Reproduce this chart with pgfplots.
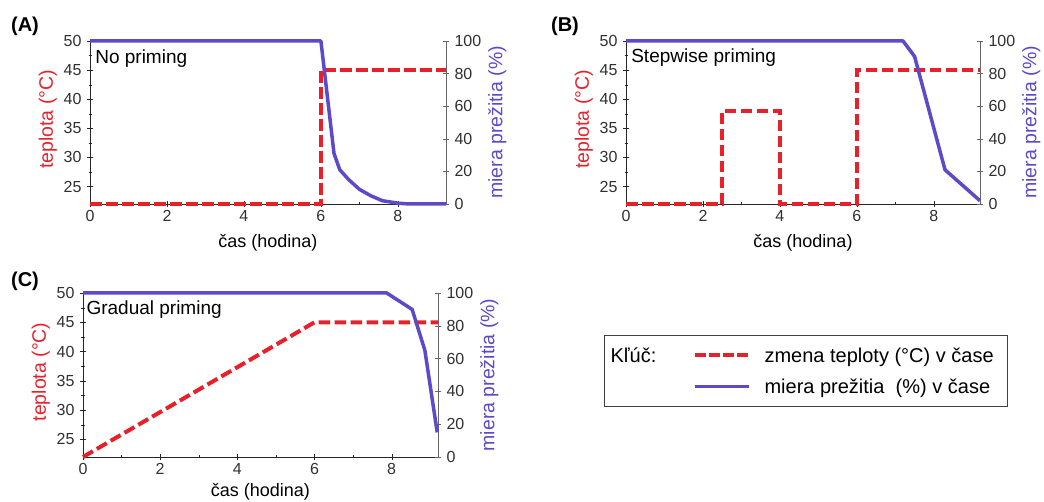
\documentclass[border=0pt]{standalone}
\usepackage{fontspec}
\setmainfont{Liberation Sans}
\usepackage{pgfplots}
\pgfplotsset{compat=1.18}
\definecolor{tred}{HTML}{E8202A}
\definecolor{sblue}{HTML}{5B4BC8}
\definecolor{tickgray}{HTML}{303030}

\pgfplotsset{
  base/.style={scale only axis, height=163pt, xmin=0, clip=false,
    /pgf/number format/assume math mode=true,
    tick label style={font=\fontsize{16}{18}\selectfont, text=tickgray},
    tick align=outside, major tick length=6pt, minor tick length=3pt,
  },
  tempaxis/.style={base, axis x line=bottom, axis y line=left,
    axis line style={-,black!85}, tick style={black!85},
    ymin=22, ymax=50, ytick={25,30,...,50}, minor y tick num=1,
    xtick={0,2,...,8}, minor x tick num=1,
    yticklabel style={xshift=-2pt},
    ylabel={teplota (°C)}, ylabel style={text=tred, font=\fontsize{19.5}{22}\selectfont, xshift=3pt},
    xlabel={čas (hodina)}, xlabel style={font=\fontsize{18}{21}\selectfont, yshift=-6pt}},
  survaxis/.style={base, axis x line=none, axis y line=right,
    axis line style={-,black!60}, tick style={black!60},
    ymin=0, ymax=100, ytick={0,20,...,100},
    yticklabel style={xshift=2pt},
    ylabel={miera prežitia (\%)}, ylabel style={text=sblue, font=\fontsize{19.5}{22}\selectfont}},
  temp/.style={tred, line width=4pt, dash pattern=on 11.5pt off 4.5pt},
  surv/.style={sblue, line width=3.5pt, line join=round},
  longleg/.style={legend image code/.code={\draw[##1] (0pt,0pt) -- (54pt,0pt);}},
}

\pgfplotstableread{
x y
0 22
6 22
6 45
9.25 45
}\tempA
\pgfplotstableread{
x y
0 100
6 100
6.34 31
6.49 21
6.72 15
7.0 9
7.3 5
7.6 2
8.0 0.5
8.3 0
9.25 0
}\survA
\pgfplotstableread{
x y
0 22
2.5 22
2.5 38
4 38
4 22
6 22
6 45
9.2 45
}\tempB
\pgfplotstableread{
x y
0 100
7.2 100
7.5 90.5
8.29 21
9.2 2
}\survB
\pgfplotstableread{
x y
0 22
6 45
9.2 45
}\tempC
\pgfplotstableread{
x y
0 100
7.87 100
8.53 90
8.86 65
9.18 15
}\survC

\begin{document}
\begin{tikzpicture}[x=1pt,y=1pt]
\useasboundingbox (0,0) rectangle (1044,502);

% Panel A
\begin{axis}[tempaxis, at={(90pt,298pt)}, anchor=south west, width=356pt, xmax=9.25]
\addplot[temp] table {\tempA};
\node[anchor=west, font=\fontsize{19}{22}\selectfont] at (axis description cs:0.005,0.89) {No priming};
\end{axis}
\begin{axis}[survaxis, at={(90pt,298pt)}, anchor=south west, width=356pt, xmax=9.25]
\addplot[surv] table {\survA};
\end{axis}

% Panel B
\begin{axis}[tempaxis, at={(626pt,298pt)}, anchor=south west, width=354pt, xmax=9.2]
\addplot[temp] table {\tempB};
\node[anchor=west, font=\fontsize{19}{22}\selectfont] at (axis description cs:0.005,0.9) {Stepwise priming};
\end{axis}
\begin{axis}[survaxis, at={(626pt,298pt)}, anchor=south west, width=354pt, xmax=9.2]
\addplot[surv] table {\survB};
\end{axis}

% Panel C
\begin{axis}[tempaxis, at={(83pt,45pt)}, anchor=south west, width=355pt, height=164pt, xmax=9.2,
  xlabel style={yshift=4pt}]
\addplot[temp] table {\tempC};
\node[anchor=west, font=\fontsize{19}{22}\selectfont] at (axis description cs:0,0.9) {Gradual priming};
\end{axis}
\begin{axis}[survaxis, at={(83pt,45pt)}, anchor=south west, width=355pt, height=164pt, xmax=9.2,
  legend style={at={(1.468,0.744)}, anchor=north west, draw=black!75, line width=0.8pt,
    font=\fontsize{20}{23}\selectfont, legend columns=2, legend cell align=left,
    inner xsep=4pt, inner ysep=10pt, row sep=11pt},
  ]
\addlegendimage{empty legend}
\addlegendentry{\makebox[80pt][l]{Kľúč:}}
\addlegendimage{tred, line width=4pt, dash pattern=on 11pt off 3pt, longleg}
\addlegendentry{\hspace*{12pt}zmena teploty (°C) v čase\hspace*{8pt}}
\addlegendimage{empty legend}
\addlegendentry{}
\addlegendimage{sblue, line width=3.5pt, longleg}
\addlegendentry{\hspace*{12pt}miera prežitia\ \ (\%) v čase}
\addplot[surv, forget plot] table {\survC};
\end{axis}

\node[font=\bfseries\fontsize{20}{24}\selectfont] at (25,476) {(A)};
\node[font=\bfseries\fontsize{20}{24}\selectfont] at (565,476) {(B)};
\node[font=\bfseries\fontsize{20}{24}\selectfont] at (25,221) {(C)};
\end{tikzpicture}
\end{document}
